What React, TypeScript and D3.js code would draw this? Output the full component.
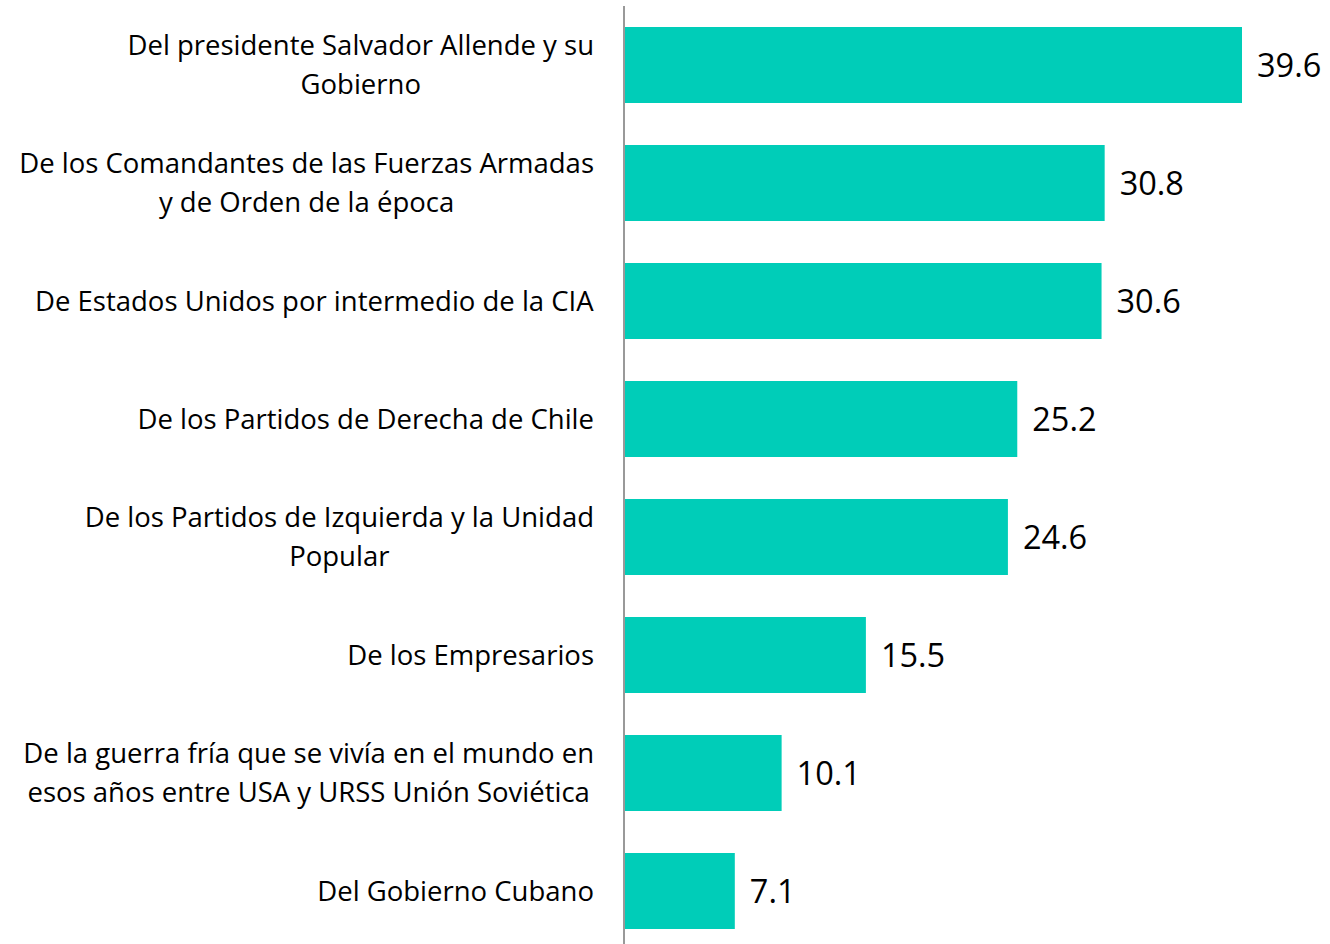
import { useEffect, useRef } from "react";
import * as d3 from "d3";

const categories = [
  "Del presidente Salvador Allende y su\nGobierno",
  "De los Comandantes de las Fuerzas Armadas\ny de Orden de la época",
  "De Estados Unidos por intermedio de la CIA",
  "De los Partidos de Derecha de Chile",
  "De los Partidos de Izquierda y la Unidad\nPopular",
  "De los Empresarios",
  "De la guerra fría que se vivía en el mundo en\nesos años entre USA y URSS Unión Soviética",
  "Del Gobierno Cubano",
];
const values = [39.6, 30.8, 30.6, 25.2, 24.6, 15.5, 10.1, 7.1];

const App = () => {
  const svgRef = useRef<SVGSVGElement>(null);

  useEffect(() => {
    const width = 1330;
    const height = 944;
    const x0 = 624;
    const font = "'Open Sans', Lato, sans-serif";

    const svg = d3.select(svgRef.current);
    svg.selectAll("*").remove();

    const x = d3.scaleLinear().domain([0, 39.6]).range([x0, 1242]);
    const y = d3
      .scaleBand()
      .domain(categories)
      .range([9, 947])
      .paddingInner(42 / 118)
      .paddingOuter(18 / 118);

    svg
      .selectAll("rect.bar")
      .data(values)
      .enter()
      .append("rect")
      .attr("class", "bar")
      .attr("x", x0)
      .attr("y", (d, i) => y(categories[i])!)
      .attr("width", (d) => x(d) - x0)
      .attr("height", y.bandwidth())
      .attr("fill", "#00CDB8");

    svg
      .selectAll("text.val")
      .data(values)
      .enter()
      .append("text")
      .attr("class", "val")
      .attr("x", (d) => x(d) + 15)
      .attr("y", (d, i) => y(categories[i])! + y.bandwidth() / 2)
      .attr("dy", "0.36em")
      .style("font-family", font)
      .style("font-size", "32.5px")
      .style("fill", "#000")
      .text((d) => d.toFixed(1));

    const labels = svg
      .selectAll("text.cat")
      .data(categories)
      .enter()
      .append("text")
      .attr("class", "cat")
      .attr("text-anchor", "middle")
      .style("font-family", font)
      .style("font-size", "27.5px")
      .style("fill", "#000");

    labels.each(function (d) {
      const lines = d.split("\n");
      const cy = y(d)! + y.bandwidth() / 2;
      const lh = 39;
      const t = d3.select(this);
      lines.forEach((ln, k) => {
        t.append("tspan")
          .attr("x", 0)
          .attr("y", cy + (k - (lines.length - 1) / 2) * lh)
          .attr("dy", "0.35em")
          .text(ln);
      });
    });

    // widest line ends at 594, other lines centred on it
    labels.each(function () {
      const t = d3.select(this);
      const w = (this as SVGTextElement).getBBox().width;
      t.selectAll("tspan").attr("x", 594 - w / 2);
    });

    svg
      .append("line")
      .attr("x1", x0)
      .attr("x2", x0)
      .attr("y1", 6)
      .attr("y2", height)
      .attr("stroke", "#999")
      .attr("stroke-width", 2);

    svg.attr("width", width).attr("height", height);
  }, []);

  return (
    <div style={{ position: "absolute", left: 0, top: 0 }}>
      <svg ref={svgRef} style={{ display: "block" }}></svg>
    </div>
  );
};

export default App;
